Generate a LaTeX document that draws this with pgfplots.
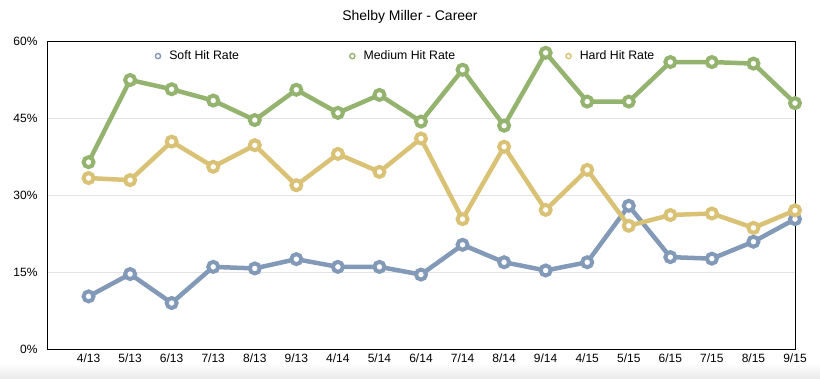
\documentclass[border=0pt]{standalone}
\usepackage{pgfplots}
\pgfplotsset{compat=1.18}
\usepackage{fontspec}
\setmainfont{Liberation Sans}
\definecolor{softc}{HTML}{8399B8}
\definecolor{medc}{HTML}{93B36E}
\definecolor{hardc}{HTML}{D9C275}
\begin{document}
\begin{tikzpicture}
\shade[top color=white, bottom color=black!8] (-47pt,-29pt) rectangle (773pt,-14pt);
\begin{axis}[
  scale only axis, width=748pt, height=308pt,
  anchor=south west, at={(0,0)},
  xmin=-1, xmax=17, ymin=0, ymax=60,
  xtick={0,...,17},
  xticklabels={4/13,5/13,6/13,7/13,8/13,9/13,4/14,5/14,6/14,7/14,8/14,9/14,4/15,5/15,6/15,7/15,8/15,9/15},
  ytick={0,15,30,45,60},
  yticklabels={0\%,15\%,30\%,45\%,60\%},
  major tick length=0pt,
  ymajorgrids, grid style={gray!22, line width=0.8pt},
  axis line style={black, line width=0.9pt},
  tick label style={font=\fontsize{12}{14}\selectfont},
  yticklabel style={xshift=-6pt},
  xticklabel style={yshift=-1pt},
  legend style={at={(0.1437,0.951)}, anchor=west, draw=none, fill=none, inner sep=0pt,
    font=\fontsize{12.3}{14}\selectfont,
    /tikz/every odd column/.append style={column sep=6pt},
    /tikz/every even column/.append style={column sep=108pt}},
  legend columns=3,
  legend image code/.code={\draw[#1, line width=1.4pt, fill=white] (0,0) circle (2.6pt);},
  every axis plot/.append style={line width=4.5pt, mark=*, mark size=5pt,
     mark options={fill=white, line width=4pt}},
]
\addplot[color=softc] coordinates {
(0,10.25) (1,14.6) (2,8.96) (3,16.0) (4,15.7) (5,17.5) (6,16.0) (7,16.0) (8,14.5)
(9,20.3) (10,16.9) (11,15.3) (12,16.9) (13,27.9) (14,17.9) (15,17.6) (16,20.9) (17,25.3)};
\addlegendentry{Soft Hit Rate}
\addplot[color=medc] coordinates {
(0,36.4) (1,52.4) (2,50.6) (3,48.4) (4,44.6) (5,50.5) (6,46.0) (7,49.5) (8,44.3)
(9,54.4) (10,43.5) (11,57.7) (12,48.2) (13,48.2) (14,55.9) (15,55.9) (16,55.6) (17,47.9)};
\addlegendentry{Medium Hit Rate}
\addplot[color=hardc] coordinates {
(0,33.3) (1,32.9) (2,40.4) (3,35.5) (4,39.7) (5,31.9) (6,38.0) (7,34.5) (8,41.0)
(9,25.3) (10,39.4) (11,27.1) (12,34.9) (13,24.0) (14,26.1) (15,26.4) (16,23.6) (17,27.0)};
\addlegendentry{Hard Hit Rate}
\end{axis}
\node[font=\fontsize{14}{16}\selectfont] at (363pt,332pt) {Shelby Miller - Career};
\path[use as bounding box] (-47pt,-29pt) rectangle (773pt,349pt);
\end{tikzpicture}
\end{document}
